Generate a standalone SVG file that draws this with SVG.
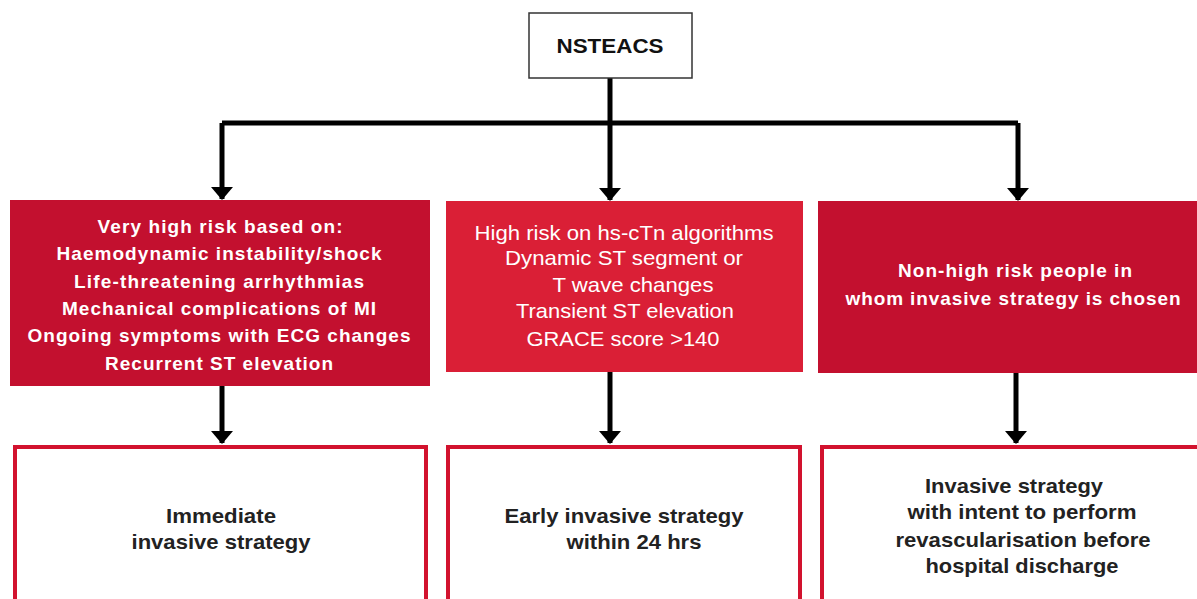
<svg xmlns="http://www.w3.org/2000/svg" width="1197" height="599" viewBox="0 0 1197 599">
  <style>
    .root { fill: #ffffff; stroke: #333333; stroke-width: 1.5; }
    .risk-dark { fill: #c3102f; }
    .risk-bright { fill: #da1f36; }
    .outcome { fill: #ffffff; stroke: #d2122e; stroke-width: 4; }
    .wire { fill: none; stroke: #000000; stroke-width: 5; }
    .t { font-family: "Liberation Sans", Arial, sans-serif; text-anchor: middle; }
    .root-label { font-size: 21px; font-weight: bold; fill: #111111; }
    .risk-bold { font-size: 19px; font-weight: bold; fill: #ffffff; }
    .risk-plain { font-size: 21px; fill: #ffffff; }
    .out-label { font-size: 21px; font-weight: bold; fill: #222222; }
  </style>
  <defs>
    <marker id="head" markerWidth="22" markerHeight="14" refX="11" refY="12" orient="0" markerUnits="userSpaceOnUse">
      <path d="M0,0 L22,0 L11,13 Z" fill="#000000"/>
    </marker>
  </defs>

  <rect width="1197" height="599" fill="#ffffff"/>

  <!-- connectors -->
  <g id="connectors">
    <path class="wire" d="M610,78 V123"/>
    <path class="wire" d="M222,123 H1018"/>
    <path class="wire" d="M222,123 V199" marker-end="url(#head)"/>
    <path class="wire" d="M610,123 V200" marker-end="url(#head)"/>
    <path class="wire" d="M1018,123 V200" marker-end="url(#head)"/>
    <path class="wire" d="M222,386 V443" marker-end="url(#head)"/>
    <path class="wire" d="M610,372 V443" marker-end="url(#head)"/>
    <path class="wire" d="M1016,373 V443" marker-end="url(#head)"/>
  </g>

  <!-- top node -->
  <g id="nsteacs">
    <rect class="root" x="529" y="13" width="163" height="65"/>
    <text class="t root-label" x="610" y="53" textLength="107" lengthAdjust="spacingAndGlyphs">NSTEACS</text>
  </g>

  <!-- risk groups -->
  <g id="very-high-risk">
    <rect class="risk-dark" x="10" y="200" width="420" height="186"/>
    <text class="t risk-bold" x="220" y="233" textLength="245" lengthAdjust="spacing">Very high risk based on:</text>
    <text class="t risk-bold" x="219" y="260" textLength="325" lengthAdjust="spacing">Haemodynamic instability/shock</text>
    <text class="t risk-bold" x="219" y="288" textLength="290" lengthAdjust="spacing">Life-threatening arrhythmias</text>
    <text class="t risk-bold" x="219" y="315" textLength="314" lengthAdjust="spacing">Mechanical complications of MI</text>
    <text class="t risk-bold" x="219" y="342" textLength="383" lengthAdjust="spacing">Ongoing symptoms with ECG changes</text>
    <text class="t risk-bold" x="219" y="370" textLength="228" lengthAdjust="spacing">Recurrent ST elevation</text>
  </g>

  <g id="high-risk">
    <rect class="risk-bright" x="446" y="201" width="357" height="171"/>
    <text class="t risk-plain" x="624" y="240" textLength="299" lengthAdjust="spacingAndGlyphs">High risk on hs-cTn algorithms</text>
    <text class="t risk-plain" x="624" y="265" textLength="238" lengthAdjust="spacingAndGlyphs">Dynamic ST segment or</text>
    <text class="t risk-plain" x="633" y="292" textLength="161" lengthAdjust="spacingAndGlyphs">T wave changes</text>
    <text class="t risk-plain" x="625" y="318" textLength="218" lengthAdjust="spacingAndGlyphs">Transient ST elevation</text>
    <text class="t risk-plain" x="623" y="346" textLength="193" lengthAdjust="spacingAndGlyphs">GRACE score &gt;140</text>
  </g>

  <g id="non-high-risk">
    <rect class="risk-dark" x="818" y="201" width="379" height="172"/>
    <text class="t risk-bold" x="1015" y="277" textLength="234" lengthAdjust="spacing">Non-high risk people in</text>
    <text class="t risk-bold" x="1013" y="305" textLength="335" lengthAdjust="spacing">whom invasive strategy is chosen</text>
  </g>

  <!-- strategies -->
  <g id="immediate">
    <rect class="outcome" x="15" y="447" width="411" height="170"/>
    <text class="t out-label" x="221" y="523" textLength="110" lengthAdjust="spacingAndGlyphs">Immediate</text>
    <text class="t out-label" x="221" y="549" textLength="179" lengthAdjust="spacingAndGlyphs">invasive strategy</text>
  </g>

  <g id="early">
    <rect class="outcome" x="448" y="447" width="352" height="170"/>
    <text class="t out-label" x="624" y="523" textLength="239" lengthAdjust="spacingAndGlyphs">Early invasive strategy</text>
    <text class="t out-label" x="634" y="549" textLength="135" lengthAdjust="spacingAndGlyphs">within 24 hrs</text>
  </g>

  <g id="before-discharge">
    <rect class="outcome" x="822" y="447" width="390" height="170"/>
    <text class="t out-label" x="1014" y="493" textLength="178" lengthAdjust="spacingAndGlyphs">Invasive strategy</text>
    <text class="t out-label" x="1022" y="519" textLength="229" lengthAdjust="spacingAndGlyphs">with intent to perform</text>
    <text class="t out-label" x="1023" y="547" textLength="255" lengthAdjust="spacingAndGlyphs">revascularisation before</text>
    <text class="t out-label" x="1022" y="573" textLength="193" lengthAdjust="spacingAndGlyphs">hospital discharge</text>
  </g>
</svg>
